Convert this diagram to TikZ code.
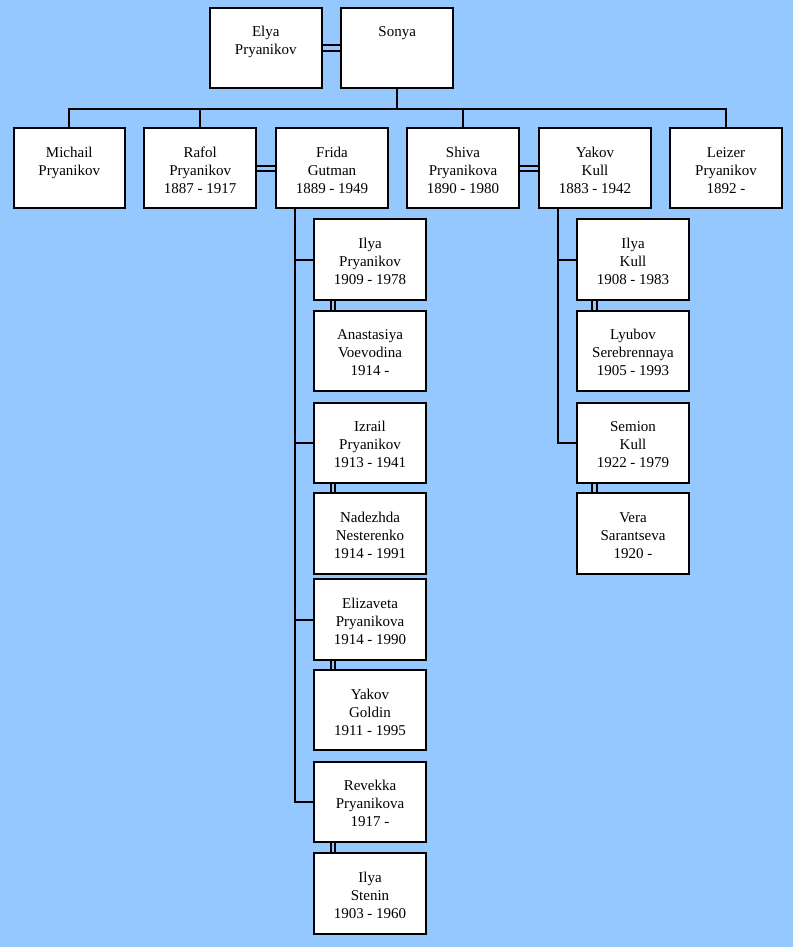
\documentclass[tikz,border=0pt]{standalone}
\usepackage{fontspec}
\setmainfont{Liberation Serif}
\definecolor{bgblue}{RGB}{148,200,255}
\newcommand\pcontent[1]{\parbox[c][60.2pt][t]{83.6pt}{\centering\fontsize{11.25}{13.5}\selectfont\vspace*{12.2pt}\strut #1}}
\tikzset{
  pbox/.style={draw, line width=1.5pt, fill=white, inner sep=0pt, outer sep=0pt},
  conn/.style={line width=1.5pt, line join=miter},
}
\begin{document}
\begin{tikzpicture}[x=0.75pt,y=-0.75pt]
\fill[bgblue] (0,0) rectangle (793,947);
\useasboundingbox (0,0) rectangle (793,947);
% generation 1
\node[pbox] (elya) at (265.8,48) {\pcontent{Elya\\Pryanikov}};
\node[pbox] (sonya) at (397.2,48) {\pcontent{Sonya}};
% generation 2
\node[pbox] (michail) at (69.3,168.3) {\pcontent{Michail\\Pryanikov}};
\node[pbox] (rafol) at (200.2,168.3) {\pcontent{Rafol\\Pryanikov\\1887 - 1917}};
\node[pbox] (frida) at (332,168.3) {\pcontent{Frida\\Gutman\\1889 - 1949}};
\node[pbox] (shiva) at (463,168.3) {\pcontent{Shiva\\Pryanikova\\1890 - 1980}};
\node[pbox] (yakov) at (595,168.3) {\pcontent{Yakov\\Kull\\1883 - 1942}};
\node[pbox] (leizer) at (726,168.3) {\pcontent{Leizer\\Pryanikov\\1892 -}};
% Frida's children
\node[pbox] (ilyap) at (370,259.6) {\pcontent{Ilya\\Pryanikov\\1909 - 1978}};
\node[pbox] (anast) at (370,351) {\pcontent{Anastasiya\\Voevodina\\1914 -}};
\node[pbox] (izrail) at (370,443) {\pcontent{Izrail\\Pryanikov\\1913 - 1941}};
\node[pbox] (nadezh) at (370,533.6) {\pcontent{Nadezhda\\Nesterenko\\1914 - 1991}};
\node[pbox] (eliz) at (370,619.6) {\pcontent{Elizaveta\\Pryanikova\\1914 - 1990}};
\node[pbox] (yakovg) at (370,710.3) {\pcontent{Yakov\\Goldin\\1911 - 1995}};
\node[pbox] (revekka) at (370,802) {\pcontent{Revekka\\Pryanikova\\1917 -}};
\node[pbox] (stenin) at (370,893.6) {\pcontent{Ilya\\Stenin\\1903 - 1960}};
% Yakov's children
\node[pbox] (ilyak) at (633,259.6) {\pcontent{Ilya\\Kull\\1908 - 1983}};
\node[pbox] (lyubov) at (633,351) {\pcontent{Lyubov\\Serebrennaya\\1905 - 1993}};
\node[pbox] (semion) at (633,443) {\pcontent{Semion\\Kull\\1922 - 1979}};
\node[pbox] (vera) at (633,533.6) {\pcontent{Vera\\Sarantseva\\1920 -}};
% coordinates
\coordinate (bar) at (398,108.8);
\coordinate (ftrunk) at (295,208.3);
\coordinate (ktrunk) at (558.3,208.3);
% marriages (horizontal double lines)
\foreach \s in {2.1pt,-2.1pt}{
  \draw[conn] ([yshift=\s]elya.east) -- ([yshift=\s]sonya.west);
  \draw[conn] ([yshift=\s]rafol.east) -- ([yshift=\s]frida.west);
  \draw[conn] ([yshift=\s]shiva.east) -- ([yshift=\s]yakov.west);
}
% marriages (vertical double lines)
\foreach \s in {12.2pt,15.5pt}{
  \draw[conn] ([xshift=\s]ilyap.south west) -- ([xshift=\s]anast.north west);
  \draw[conn] ([xshift=\s]izrail.south west) -- ([xshift=\s]nadezh.north west);
  \draw[conn] ([xshift=\s]eliz.south west) -- ([xshift=\s]yakovg.north west);
  \draw[conn] ([xshift=\s]revekka.south west) -- ([xshift=\s]stenin.north west);
}
\foreach \s in {11.3pt,15pt}{
  \draw[conn] ([xshift=\s]ilyak.south west) -- ([xshift=\s]lyubov.north west);
  \draw[conn] ([xshift=\s]semion.south west) -- ([xshift=\s]vera.north west);
}
% descent from Elya & Sonya
\draw[conn] (sonya.south) -- (sonya.south |- bar);
\draw[conn] (michail.north) |- (leizer.north |- bar) -- (leizer.north);
\draw[conn] (rafol.north) -- (rafol.north |- bar);
\draw[conn] (shiva.north) -- (shiva.north |- bar);
% Frida's children
\draw[conn] (ftrunk) |- (revekka.west);
\draw[conn] (ftrunk |- ilyap.west) -- (ilyap.west);
\draw[conn] (ftrunk |- izrail.west) -- (izrail.west);
\draw[conn] (ftrunk |- eliz.west) -- (eliz.west);
% Yakov's children
\draw[conn] (ktrunk) |- (semion.west);
\draw[conn] (ktrunk |- ilyak.west) -- (ilyak.west);
\end{tikzpicture}
\end{document}
